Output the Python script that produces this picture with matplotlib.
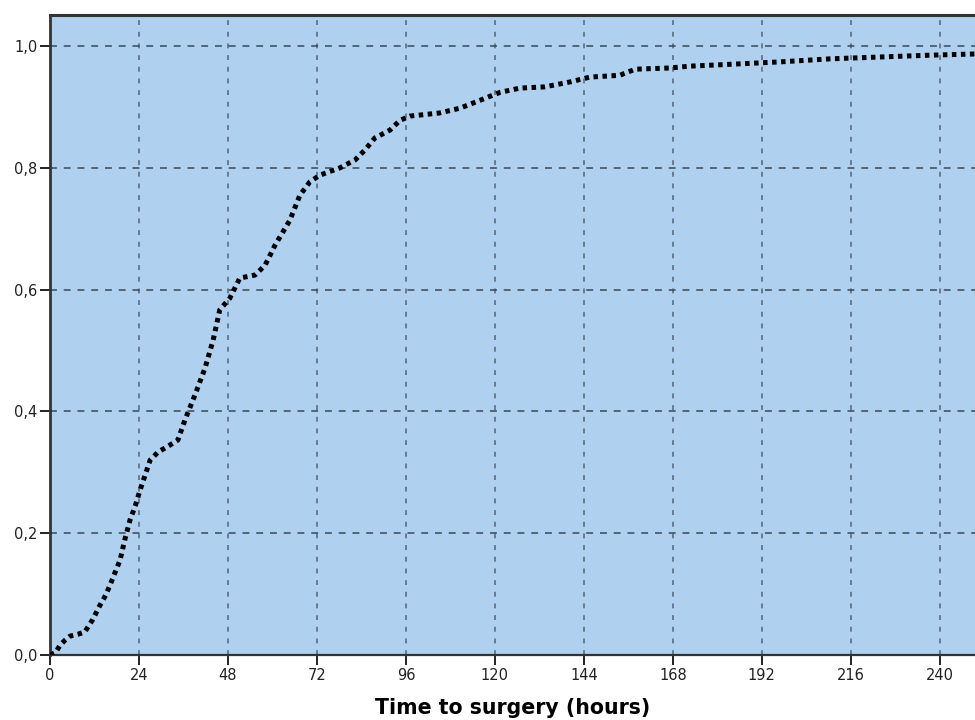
import matplotlib
matplotlib.use("Agg")
import matplotlib.pyplot as plt

# cumulative proportion vs time to surgery (hours)
hours = [0, 1.5, 2.7, 4.0, 5.4, 7.5, 9.4, 11.5, 13.5, 15.0, 16.2, 18.9, 20.2, 21.6, 23.0,
         24.3, 25.8, 27.0, 29.1, 32.4, 34.5, 36.4, 39.1, 41.8, 44.0, 45.8, 48.5, 51.2,
         55.3, 58.0, 60.7, 64.7, 67.4, 70.1, 72.8, 78.2, 82.3, 84.9, 87.6, 91.7, 94.4,
         97.1, 105.0, 110.6, 116.0, 121.4, 126.8, 133.5, 140.2, 145.6, 153.7, 157.8,
         167.2, 172.6, 183.4, 196.9, 210.4, 223.8, 237.3, 249.5]
cum_prop = [0.0, 0.004, 0.016, 0.024, 0.031, 0.034, 0.038, 0.058, 0.082, 0.098, 0.115,
            0.156, 0.19, 0.222, 0.245, 0.271, 0.298, 0.32, 0.333, 0.345, 0.353, 0.386,
            0.427, 0.471, 0.517, 0.567, 0.586, 0.619, 0.624, 0.64, 0.673, 0.714, 0.755,
            0.777, 0.788, 0.80, 0.813, 0.829, 0.849, 0.862, 0.878, 0.885, 0.89, 0.898,
            0.911, 0.924, 0.931, 0.933, 0.941, 0.949, 0.952, 0.962, 0.964, 0.967, 0.970,
            0.974, 0.979, 0.982, 0.985, 0.987]

x_ticks = list(range(0, 241, 24))
y_ticks = [0.0, 0.2, 0.4, 0.6, 0.8, 1.0]
y_labels = ["0,0", "0,2", "0,4", "0,6", "0,8", "1,0"]

plt.rcParams['font.family'] = ['DejaVu Sans']

fig = plt.figure(figsize=(9.75, 7.2), dpi=100)
ax = fig.add_axes([50 / 975, 1 - 655 / 720, 1 - 50 / 975, 640 / 720])
ax.set_facecolor('#afd0ee')

ax.plot(hours, cum_prop, color='black', linewidth=3.6,
        linestyle=(0, (0.9, 0.9)), dash_capstyle='butt', zorder=3)

ax.set_xlim(0, 249.5)
ax.set_ylim(0, 1.051)
ax.set_xticks(x_ticks)
ax.set_xticklabels([str(t) for t in x_ticks])
ax.set_yticks(y_ticks)
ax.set_yticklabels(y_labels)

for x in x_ticks[1:]:
    ax.axvline(x, color='#667b90', linewidth=1.4, linestyle=(0, (2.5, 3.5)), zorder=1)
for y in y_ticks[1:]:
    ax.axhline(y, color='#3a4756', linewidth=1.1, linestyle=(0, (4.5, 4.5)), zorder=1)

for side in ['top', 'left', 'bottom']:
    ax.spines[side].set_color('#333333')
ax.spines['top'].set_linewidth(2.2)
ax.spines['left'].set_linewidth(2.0)
ax.spines['bottom'].set_linewidth(1.6)
ax.spines['right'].set_visible(False)

ax.tick_params(direction='out', length=7, width=1.4, color='#222222',
               labelsize=10.5, labelcolor='#222222', pad=2)

ax.set_xlabel("Time to surgery (hours)", fontsize=14.8, fontweight='bold', labelpad=11)

fig.savefig("out.png", dpi=100)
